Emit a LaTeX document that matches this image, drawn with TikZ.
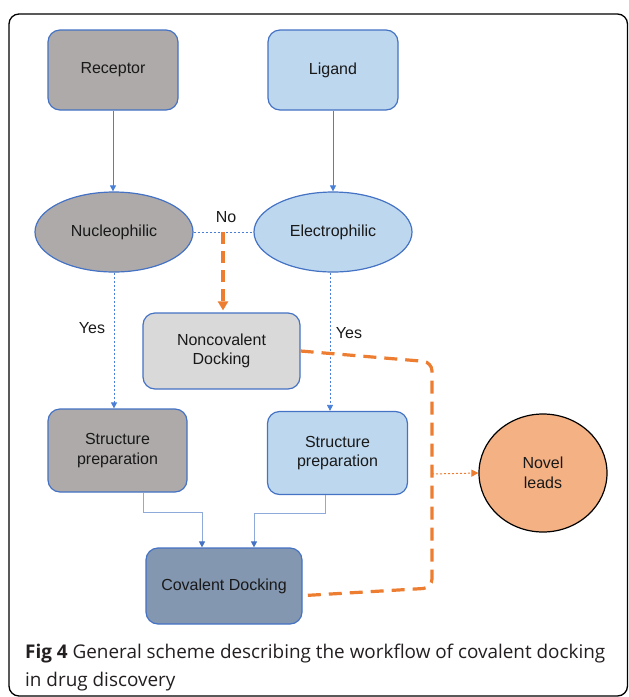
\documentclass[tikz,border=0pt]{standalone}
\usepackage{fontspec}
\setmainfont{Liberation Sans}
\newfontfamily\capfont{Open Sans}
\usetikzlibrary{shapes.geometric,arrows.meta,calc}
\definecolor{bordblue}{HTML}{4472C4}
\definecolor{conblue}{HTML}{4A7FD8}
\definecolor{liteconn}{HTML}{8EAADB}
\definecolor{grayfill}{HTML}{AEAAAA}
\definecolor{bluefill}{HTML}{BDD7EE}
\definecolor{ncfill}{HTML}{D9D9D9}
\definecolor{cdfill}{HTML}{8497B0}
\definecolor{orangeline}{HTML}{ED7D31}
\definecolor{leadfill}{HTML}{F4B183}
\definecolor{captext}{HTML}{231F20}
\tikzset{
  boxbase/.style={draw=bordblue, line width=1.2pt, rounded corners=12pt, align=center,
    font=\fontsize{16}{19.5}\selectfont, text=black!90, inner sep=0pt},
  graybox/.style={boxbase, fill=grayfill},
  bluebox/.style={boxbase, fill=bluefill},
  ncbox/.style={boxbase, fill=ncfill},
  cdbox/.style={boxbase, fill=cdfill},
  ellbox/.style={ellipse, draw=bordblue, line width=1.2pt, inner sep=0pt,
    font=\fontsize{16}{19.5}\selectfont, text=black!90},
  leadnode/.style={ellipse, draw=black, line width=1.2pt, fill=leadfill, inner sep=0pt,
    align=center, font=\fontsize{16}{19.5}\selectfont, text=black!90},
  tip/.style={-{Triangle[width=6pt,length=6pt]}},
  solidconn/.style={draw=conblue, line width=0.8pt, tip},
  liteconnector/.style={draw=liteconn, line width=1pt, -{Triangle[width=6pt,length=6pt,color=bordblue,fill=bordblue]}},
  dotconn/.style={draw=conblue, line width=0.8pt, dash pattern=on 2pt off 2pt},
  orangedash/.style={draw=orangeline, line width=3.2pt, dash pattern=on 13pt off 8pt},
  orangedot/.style={draw=orangeline, line width=1pt, dash pattern=on 2pt off 2pt},
  lbl/.style={font=\fontsize{16}{19}\selectfont, text=black!90, inner sep=0pt},
}
\begin{document}
\begin{tikzpicture}[x=1pt,y=-1pt]
\useasboundingbox (0,0) rectangle (629,697);
% frame
\draw[line width=1.3pt, rounded corners=10pt] (9,14) rectangle (627.5,696);
% nodes
\node[graybox, minimum width=130pt, minimum height=80pt] (rec) at (113,70) {Receptor};
\node[bluebox, minimum width=130pt, minimum height=80pt] (lig) at (333,70) {Ligand};
\node[ellbox, fill=grayfill, minimum width=158pt, minimum height=80pt] (nuc) at (114,232) {Nucleophilic};
\node[ellbox, fill=bluefill, minimum width=158pt, minimum height=80pt] (elec) at (333,232) {Electrophilic};
\node[ncbox, minimum width=157pt, minimum height=76pt] (nc) at (221.5,351) {Noncovalent\\Docking};
\node[graybox, minimum width=139pt, minimum height=83pt] (sp1) at (117.5,450.5) {Structure\\preparation};
\node[bluebox, minimum width=140pt, minimum height=83pt] (sp2) at (337.5,453) {Structure\\preparation};
\node[cdbox, minimum width=156pt, minimum height=76pt] (cd) at (224,586) {Covalent Docking};
\node[leadnode, minimum width=128pt, minimum height=118pt] (lead) at (543,473) {Novel\\leads};
% labels
\node[lbl] (no) at (226,217) {No};
\node[lbl] (yes1) at (92,328) {Yes};
\node[lbl] (yes2) at (349,333) {Yes};
% connectors
\draw[solidconn] (rec.south) -- (rec.south |- nuc.north);
\draw[solidconn] (lig.south) -- (lig.south |- elec.north);
\draw[dotconn] (nuc.east) -- (elec.west);
\coordinate (noj) at (223,232);
\draw[orangedash, -{Triangle[width=10pt,length=9pt]}, dash pattern=on 12pt off 7pt] (noj) -- ($(noj |- nc.north)+(0,-2)$);
\draw[dotconn, tip] (nuc.south) -- (nuc.south |- sp1.north);
\draw[dotconn, tip] ($(elec.south)+(-3,0)$) -- ($(elec.south |- sp2.north)+(-3,0)$);
\draw[liteconnector] ($(sp1.south)+(26,0)$) |- ($(cd.north)+(-22,-35)$) -- ($(cd.north)+(-22,0)$);
\draw[liteconnector] ($(sp2.south)+(-12,0)$) |- ($(cd.north)+(30,-34)$) -- ($(cd.north)+(30,0)$);
\draw[orangedash, rounded corners=9pt] (nc.east) -- (432,362) -- (432,588) -- (cd.-7);
\coordinate (oj) at (432,474);
\draw[orangedot, -{Triangle[width=7pt,length=7pt]}] (oj) -- (lead.west);
% caption
\node[anchor=base west, inner sep=0pt, text=captext] (cap1) at (25,658)
  {\capfont\fontsize{18.9}{22}\selectfont\textbf{Fig 4} General scheme describing the workflow of covalent docking};
\node[anchor=base west, inner sep=0pt, text=captext] (cap2) at (25,686)
  {\capfont\fontsize{18.9}{22}\selectfont in drug discovery};
\end{tikzpicture}
\end{document}
